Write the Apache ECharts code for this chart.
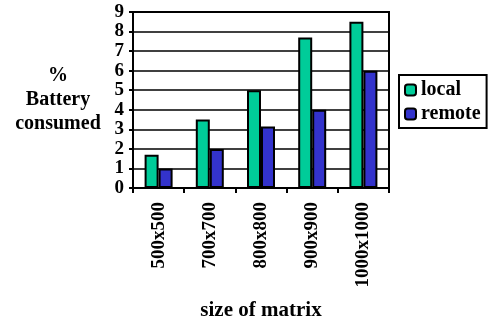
<!DOCTYPE html>
<html>
<head>
<meta charset="utf-8">
<script src="https://cdn.jsdelivr.net/npm/echarts@6/dist/echarts.min.js"></script>
<style>html,body{margin:0;padding:0;background:#fff;}#c{width:495px;height:327px;}</style>
</head>
<body>
<div id="c"></div>
<script>
const categories = ['500x500', '700x700', '800x800', '900x900', '1000x1000'];
const localValues = [1.7, 3.5, 5.0, 7.7, 8.5];
const remoteValues = [1.0, 2.0, 3.15, 4.0, 6.0];
const yTicks = [0, 1, 2, 3, 4, 5, 6, 7, 8, 9];

const FONT = '"Liberation Serif", "Times New Roman", serif';
const chart = echarts.init(document.getElementById('c'));
chart.setOption({
  animation: false,
  backgroundColor: '#fff',
  grid: { left: 133, right: 106, top: 12, bottom: 139, show: true, borderColor: '#000', borderWidth: 2 },
  legend: {
    orient: 'vertical', left: 399, top: 75,
    borderColor: '#000', borderWidth: 2, padding: [5, 6, 4, 5],
    itemWidth: 11, itemHeight: 11, itemGap: 4,
    textStyle: { fontFamily: FONT, fontWeight: 'bold', fontSize: 20, color: '#000' },
    data: ['local', 'remote']
  },
  xAxis: {
    type: 'category', data: categories,
    axisLine: { lineStyle: { color: '#000', width: 2 } },
    axisTick: { show: true, length: 5, lineStyle: { color: '#000', width: 2 } },
    axisLabel: { rotate: 90, margin: 14, fontFamily: FONT, fontWeight: 'bold', fontSize: 19, color: '#000' },
    name: 'size of matrix', nameLocation: 'middle', nameGap: 112,
    nameTextStyle: { fontFamily: FONT, fontWeight: 'bold', fontSize: 21, color: '#000' }
  },
  yAxis: {
    type: 'value', min: 0, max: 9, interval: 1,
    axisLine: { show: true, lineStyle: { color: '#000', width: 2 } },
    axisTick: { show: true, length: 4, lineStyle: { color: '#000', width: 2 } },
    splitLine: { show: true, lineStyle: { color: '#000', width: 1.5 } },
    axisLabel: { margin: 9, fontFamily: FONT, fontWeight: 'bold', fontSize: 19, color: '#000',
      formatter: v => yTicks.includes(v) ? String(v) : '' },
    name: '%\nBattery\nconsumed', nameLocation: 'middle', nameGap: 75, nameRotate: 0,
    nameTextStyle: { fontFamily: FONT, fontWeight: 'bold', fontSize: 20, color: '#000', align: 'center', verticalAlign: 'middle', lineHeight: 24, padding: [8, 0, 0, 0] }
  },
  series: [
    { name: 'local', type: 'bar', data: localValues, barWidth: 14, barGap: '0%',
      itemStyle: { color: '#00CC99', borderColor: '#000', borderWidth: 2 } },
    { name: 'remote', type: 'bar', data: remoteValues, barWidth: 14, barGap: '0%',
      itemStyle: { color: '#3333CC', borderColor: '#000', borderWidth: 2 } }
  ]
});
</script>
</body>
</html>
